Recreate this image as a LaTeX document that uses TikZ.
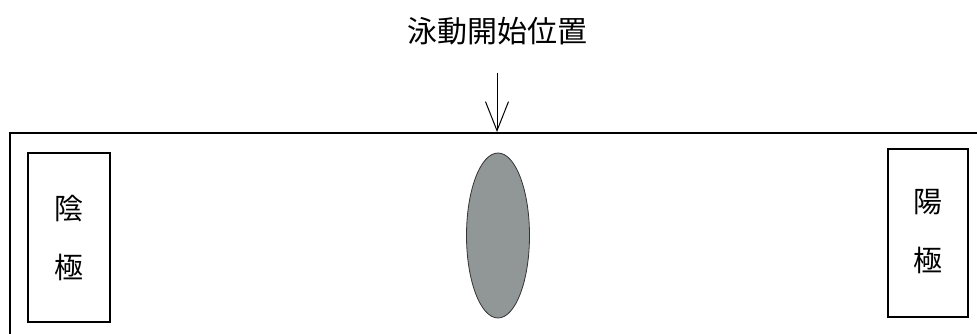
\documentclass[tikz,border=0pt]{standalone}
\usepackage{fontspec}
\newfontfamily\cjk{Noto Sans CJK JP}
\usetikzlibrary{arrows.meta}
\definecolor{blobgray}{RGB}{145,150,150}
\tikzset{
  frame/.style={line width=1.3pt, black},
  electrode/.style={draw, line width=1.2pt, minimum width=82pt, inner sep=0pt},
  lbl/.style={font=\cjk\fontsize{29}{34}\selectfont, inner sep=0pt},
  title/.style={font=\cjk\fontsize{30}{36}\selectfont, inner sep=0pt},
}
\begin{document}
\begin{tikzpicture}[x=1pt,y=-1pt]
\useasboundingbox (0,0) rectangle (977,334);
\begin{scope}
\clip (0,0) rectangle (977,334);
% outer tank (left and top edges visible)
\draw[frame] (10,340) -- (10,133) -- (985,133);
% cathode box
\node[electrode, minimum height=169pt] (cathode) at (69,237.5) {};
\node[lbl] (cat1) at (69,209) {陰};
\node[lbl] (cat2) at (69,267) {極};
% anode box
\node[electrode, minimum height=168pt, minimum width=80pt] (anode) at (928,233) {};
\node[lbl] (an1) at (928,202) {陽};
\node[lbl] (an2) at (928,260) {極};
% sample blob
\draw[line width=0.8pt, draw=black!80, fill=blobgray] (498,235.5) ellipse [x radius=31.5, y radius=82.5];
% title and arrow
\node[title] (title) at (497,31) {泳動開始位置};
\coordinate (atop) at (497,73);
\coordinate (abot) at (497,132);
\draw[line width=1pt, -{Straight Barb[length=29pt,width=23pt,line width=1pt]}] (atop) -- (abot);
\end{scope}
\end{tikzpicture}
\end{document}
